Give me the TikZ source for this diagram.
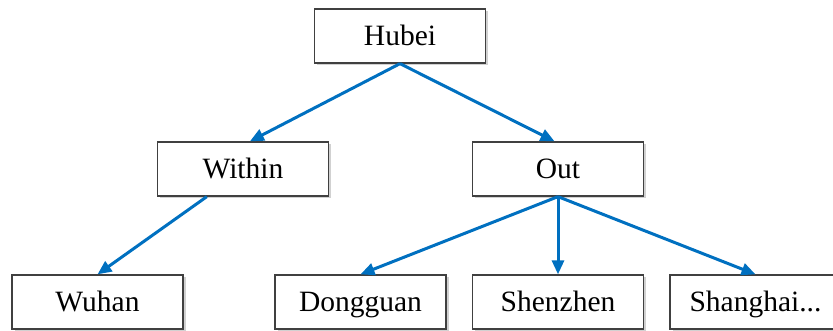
\documentclass[tikz,border=0pt]{standalone}
\usepackage{fontspec}
\setmainfont{Liberation Serif}
\usetikzlibrary{arrows.meta,shadows,calc}
\definecolor{arrowblue}{RGB}{0,112,192}
\definecolor{boxline}{RGB}{64,64,64}
\tikzset{
  box/.style={draw=boxline,line width=1.3pt,fill=white,minimum width=171pt,minimum height=54pt,inner sep=0pt,
    font=\fontsize{29.5}{34}\selectfont,text height=19pt,text depth=0pt,
    drop shadow={shadow xshift=2.5pt,shadow yshift=-2.5pt,fill=black!18,opacity=1}},
  link/.style={draw=arrowblue,line width=3pt,-{Triangle[length=14pt,width=12pt]}}
}
\begin{document}
\begin{tikzpicture}[x=1pt,y=-1pt]
\useasboundingbox (0,0) rectangle (833,331);
\node[box] (hubei) at (400,36) {Hubei};
\node[box] (within) at (243,169) {Within};
\node[box] (out) at (558,169) {Out};
\node[box] (wuhan) at (97.5,302) {Wuhan};
\node[box] (dongguan) at (360.5,302) {Dongguan};
\node[box] (shenzhen) at (558,302) {Shenzhen};
\node[box] (shanghai) at (755.5,302) {Shanghai...};
\draw[link] (hubei.south) -- ($(within.north west)!0.54!(within.north east)$);
\draw[link] (hubei.south) -- ($(out.north west)!0.48!(out.north east)$);
\draw[link] ($(within.south west)!0.29!(within.south east)$) -- (wuhan.north);
\draw[link] (out.south) -- (dongguan.north);
\draw[link] (out.south) -- (shenzhen.north);
\draw[link] (out.south) -- (shanghai.north);
\end{tikzpicture}
\end{document}
